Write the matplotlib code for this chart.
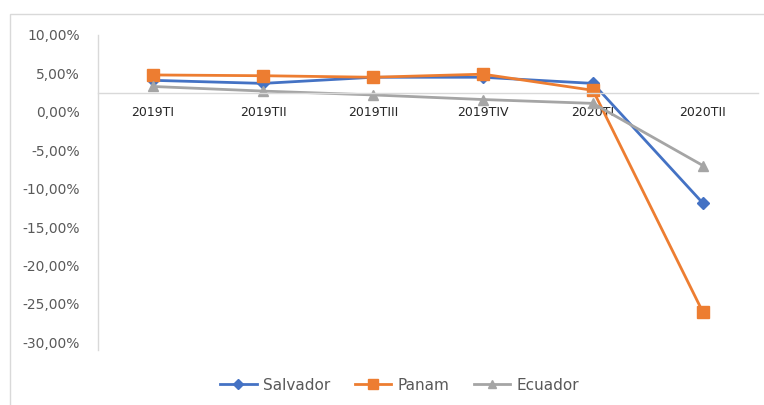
import matplotlib.pyplot as plt
from matplotlib.patches import Rectangle
from matplotlib.ticker import FuncFormatter

# Quarterly growth rates (%)
quarters = ["2019TI", "2019TII", "2019TIII", "2019TIV", "2020TI", "2020TII"]
salvador = [4.1, 3.7, 4.5, 4.5, 3.7, -11.9]
panam = [4.8, 4.7, 4.5, 4.9, 2.8, -26.1]
ecuador = [3.3, 2.7, 2.2, 1.6, 1.1, -7.0]

axis_cross = 2.4  # value where the category axis crosses

blue = "#4472C4"
orange = "#ED7D31"
gray = "#A5A5A5"
axis_col = "#D9D9D9"
text_col = "#595959"

plt.rcParams['font.family'] = ['DejaVu Sans']

fig = plt.figure(figsize=(7.64, 4.05), dpi=100)
ax = fig.add_axes([98 / 764, 1 - 350 / 405, 660 / 764, 315 / 405])

x = range(len(quarters))
ax.plot(x, salvador, color=blue, lw=2.0, marker="D", ms=6.5, label="Salvador")
ax.plot(x, panam, color=orange, lw=2.0, marker="s", ms=8.5, label="Panam")
ax.plot(x, ecuador, color=gray, lw=2.0, marker="^", ms=7.5, label="Ecuador")

ax.set_xlim(-0.5, len(quarters) - 0.5)
ax.set_ylim(-31.0, 10)
ax.set_yticks(range(-30, 11, 5))
ax.yaxis.set_major_formatter(FuncFormatter(lambda v, p: f"{v:.2f}%".replace(".", ",")))
ax.set_xticks(list(x))
ax.set_xticklabels(quarters)

for s in ["top", "right"]:
    ax.spines[s].set_visible(False)
ax.spines["left"].set_color(axis_col)
ax.spines["bottom"].set_color(axis_col)
ax.spines["left"].set_linewidth(1.0)
ax.spines["bottom"].set_linewidth(1.0)
ax.spines["bottom"].set_position(("data", axis_cross))
ax.set_axisbelow(True)

ax.tick_params(axis="y", length=0, pad=13, labelsize=10, labelcolor=text_col)
ax.tick_params(axis="x", length=0, pad=9, labelsize=9, labelcolor="#262626")

# chart area border
fig.patches.append(Rectangle((10 / 764, -0.1), 1.2, 1 - 14 / 405 + 0.1,
                             transform=fig.transFigure, fill=False,
                             edgecolor=axis_col, lw=1.0, clip_on=False))

fig.legend(loc="center", bbox_to_anchor=(0.523, 1 - 385 / 405), ncol=3,
           frameon=False, fontsize=11, handlelength=2.4, handletextpad=0.4,
           columnspacing=1.6, labelcolor=text_col, markerscale=0.85)

fig.savefig("out.png", dpi=100)
